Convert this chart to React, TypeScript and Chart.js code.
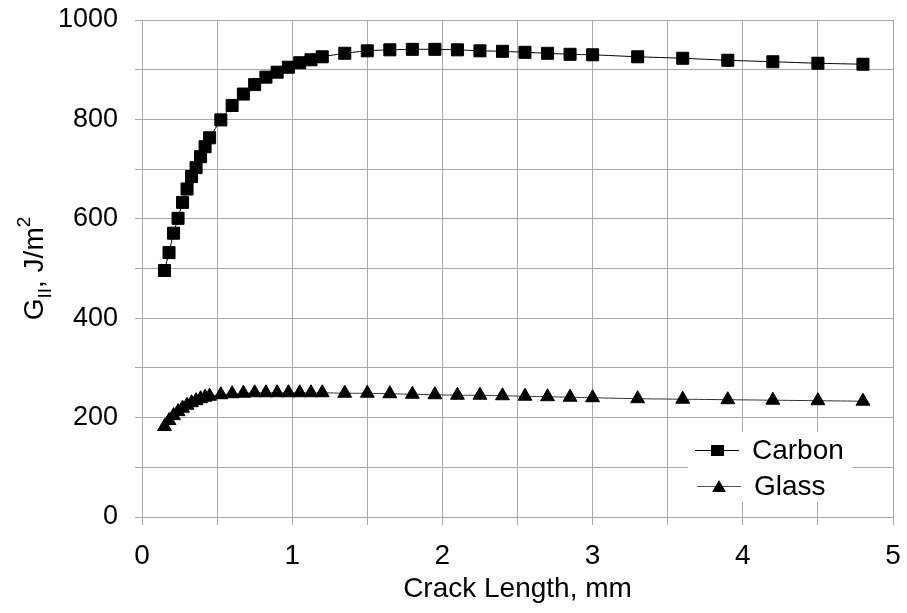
import React, { useEffect, useRef } from 'react';
import { Chart, registerables } from 'chart.js';

Chart.register(...registerables);

// Crack length (mm)
const crackLength = [
  0.15, 0.18, 0.21, 0.24, 0.27, 0.3, 0.33, 0.36, 0.39, 0.42, 0.45,
  0.525, 0.6, 0.675, 0.75, 0.825, 0.9, 0.975, 1.05, 1.125, 1.2,
  1.35, 1.5,
  1.65, 1.8, 1.95, 2.1, 2.25, 2.4, 2.55, 2.7, 2.85, 3.0,
  3.3, 3.6, 3.9, 4.2, 4.5, 4.8,
];

// G_II, J/m^2
const carbonG = [
  496, 532, 571, 601, 633, 660, 685, 703, 725, 745, 763,
  799, 828, 851, 870, 885, 895, 905, 914, 920, 926,
  933, 938,
  940, 941, 941, 940, 938, 937, 935, 933, 931, 930,
  926, 923, 919, 916, 913, 911,
];

const glassG = [
  182, 194, 204, 212, 219, 225, 230, 234, 238, 241, 243,
  246, 248, 249, 250, 250, 250, 250, 250, 250, 250,
  249, 249,
  248, 247, 246, 245, 245, 244, 243, 242, 241, 240,
  238, 237, 236, 235, 234, 233,
];

const seriesNames = ['Carbon', 'Glass'];
const xTitle = 'Crack Length, mm';

const FONT = "'Liberation Sans', Arial, sans-serif";
const GRID = '#a8a8a8';

const yTitlePlugin = {
  id: 'yTitle',
  afterDraw(chart: any) {
    const { ctx, chartArea } = chart;
    const parts = [
      { t: 'G', size: 28, dy: 0 },
      { t: 'II', size: 19, dy: 8 },
      { t: ', J/m', size: 28, dy: 0 },
      { t: '2', size: 19, dy: -13 },
    ];
    ctx.save();
    let total = 0;
    const widths: number[] = [];
    for (const p of parts) {
      ctx.font = `${p.size}px ${FONT}`;
      const w = ctx.measureText(p.t).width;
      widths.push(w);
      total += w;
    }
    const cy = (chartArea.top + chartArea.bottom) / 2;
    ctx.translate(43, cy + total / 2);
    ctx.rotate(-Math.PI / 2);
    ctx.fillStyle = '#000';
    ctx.textBaseline = 'alphabetic';
    ctx.textAlign = 'left';
    let x = 0;
    parts.forEach((p, i) => {
      ctx.font = `${p.size}px ${FONT}`;
      ctx.fillText(p.t, x, p.dy);
      x += widths[i];
    });
    ctx.restore();
  },
};

const legendPlugin = {
  id: 'customLegend',
  afterDraw(chart: any) {
    const { ctx } = chart;
    ctx.save();
    ctx.fillStyle = '#ffffff';
    ctx.fillRect(688, 432, 164, 70);
    // Carbon
    ctx.strokeStyle = '#000';
    ctx.lineWidth = 1;
    ctx.beginPath();
    ctx.moveTo(695, 450.5);
    ctx.lineTo(739, 450.5);
    ctx.stroke();
    ctx.fillStyle = '#000';
    ctx.fillRect(711, 445, 13, 11);
    // Glass
    ctx.strokeStyle = '#555';
    ctx.beginPath();
    ctx.moveTo(697, 486.5);
    ctx.lineTo(741, 486.5);
    ctx.stroke();
    ctx.fillStyle = '#000';
    ctx.beginPath();
    ctx.moveTo(719, 480);
    ctx.lineTo(726, 492);
    ctx.lineTo(712, 492);
    ctx.closePath();
    ctx.fill();
    ctx.font = `28px ${FONT}`;
    ctx.textBaseline = 'middle';
    ctx.textAlign = 'left';
    ctx.fillText(seriesNames[0], 752, 451);
    ctx.fillText(seriesNames[1], 754, 487);
    ctx.restore();
  },
};

export default function App() {
  const canvasRef = useRef<HTMLCanvasElement | null>(null);

  useEffect(() => {
    const canvas = canvasRef.current;
    if (!canvas) return;
    const chart = new Chart(canvas, {
      type: 'line',
      data: {
        datasets: [
          {
            label: seriesNames[0],
            data: crackLength.map((x, i) => ({ x, y: carbonG[i] })),
            borderColor: '#000',
            borderWidth: 1,
            pointStyle: 'rect',
            pointRadius: 8.5,
            pointBackgroundColor: '#000',
            pointBorderColor: '#000',
            pointBorderWidth: 1,
            tension: 0.2,
          },
          {
            label: seriesNames[1],
            data: crackLength.map((x, i) => ({ x, y: glassG[i] })),
            borderColor: '#333',
            borderWidth: 1,
            pointStyle: 'triangle',
            pointRadius: 8,
            pointBackgroundColor: '#000',
            pointBorderColor: '#000',
            pointBorderWidth: 1,
            tension: 0.2,
          },
        ],
      },
      options: {
        responsive: false,
        animation: false,
        devicePixelRatio: 1,
        layout: { padding: { left: 0, right: 14, top: 20, bottom: 0 } },
        plugins: {
          legend: { display: false },
          tooltip: { enabled: false },
          title: { display: false },
        },
        scales: {
          x: {
            type: 'linear',
            min: 0,
            max: 5,
            afterFit(scale: any) {
              scale.height = 96;
              scale.paddingLeft = 0;
              scale.paddingRight = 0;
            },
            ticks: {
              stepSize: 0.5,
              autoSkip: false,
              maxRotation: 0,
              padding: 14,
              color: '#000',
              font: { family: FONT, size: 28 },
              callback: (v: any) => (Number.isInteger(v) ? String(v) : ''),
            },
            grid: { color: GRID, tickLength: 8, tickColor: GRID, lineWidth: 1 },
            border: { color: GRID },
            title: {
              display: true,
              text: xTitle,
              color: '#000',
              font: { family: FONT, size: 28 },
              padding: { top: 0, bottom: 7 },
            },
          },
          y: {
            type: 'linear',
            min: 0,
            max: 1000,
            afterFit(scale: any) {
              scale.width = 142;
              scale.paddingTop = 0;
              scale.paddingBottom = 0;
            },
            ticks: {
              stepSize: 100,
              autoSkip: false,
              padding: 17,
              color: '#000',
              font: { family: FONT, size: 27 },
              callback: (v: any) => (v % 200 === 0 ? String(v) : ''),
            },
            grid: { color: GRID, tickLength: 7, tickColor: GRID, lineWidth: 1 },
            border: { color: GRID },
          },
        },
      },
      plugins: [yTitlePlugin, legendPlugin],
    });
    return () => chart.destroy();
  }, []);

  return (
    <div style={{ position: 'fixed', left: 0, top: 0, width: 907, height: 613, background: '#fff' }}>
      <canvas ref={canvasRef} width={907} height={613} style={{ width: 907, height: 613, display: 'block' }} />
    </div>
  );
}
